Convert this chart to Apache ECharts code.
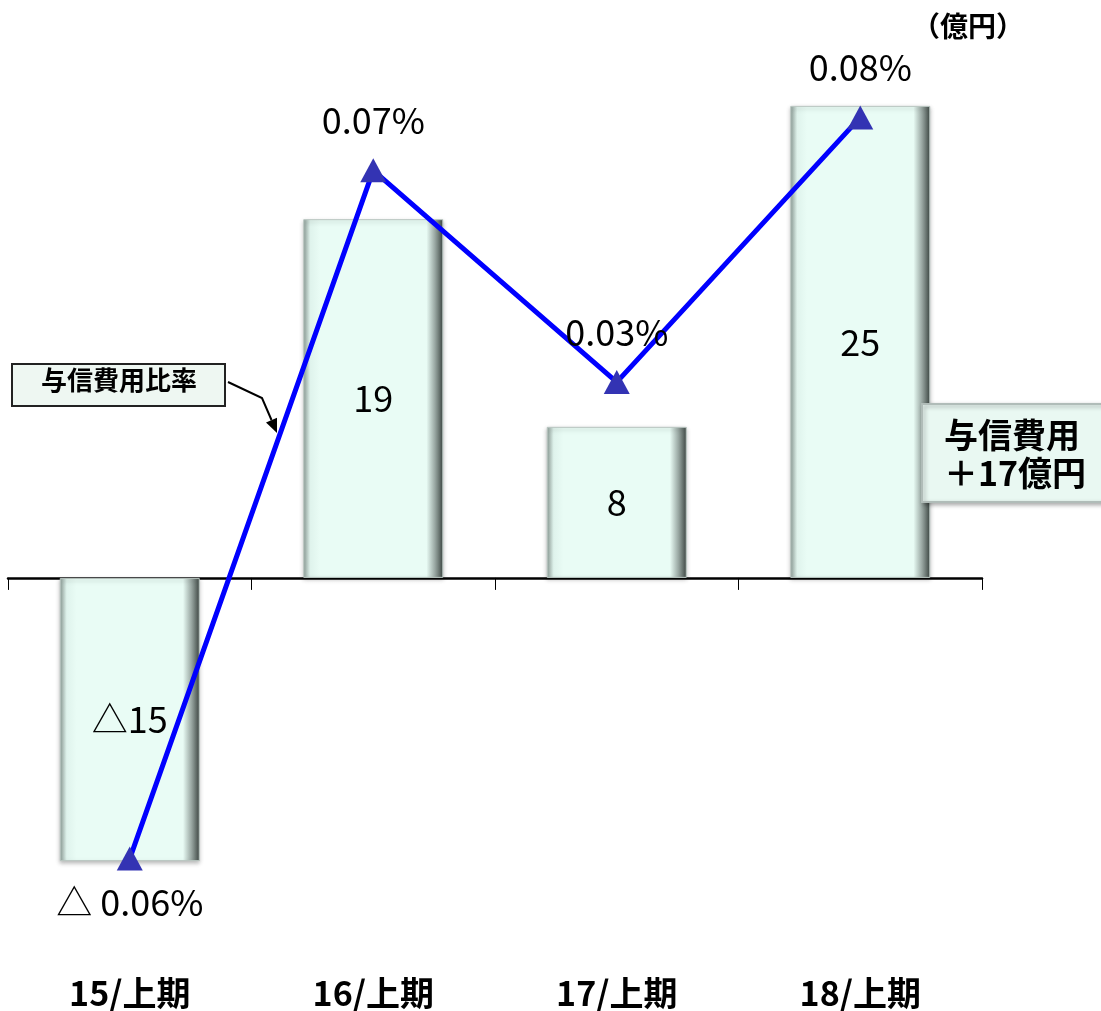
<!DOCTYPE html>
<html><head><meta charset="utf-8">
<script src="https://cdn.jsdelivr.net/npm/echarts@6/dist/echarts.min.js"></script>
<style>html,body{margin:0;padding:0;background:#fff}#c{width:1101px;height:1011px}</style>
</head><body><div id="c"></div>
<script>
const categories = ['15/上期', '16/上期', '17/上期', '18/上期'];
const creditCost = [-15, 19, 8, 25];          // 億円
const creditCostRatio = [-0.06, 0.07, 0.03, 0.08]; // %
const unitLabel = '（億円）';
const ratioName = '与信費用比率';
const noteLines = ['与信費用', '＋17億円'];

const numFont = '"Noto Sans CJK JP",sans-serif';
const jpFont = '"Noto Sans CJK JP",sans-serif';

const chart = echarts.init(document.getElementById('c'));
chart.setOption({
  backgroundColor: '#ffffff',
  animation: false,
  grid: { left: 8, right: 119, top: 87, bottom: 131, containLabel: false, outerBoundsMode: 'none' },
  xAxis: [
    {
      type: 'category',
      data: categories,
      boundaryGap: true,
      axisLine: { onZero: true, lineStyle: { color: '#000', width: 2.5 } },
      axisTick: { show: true, length: 12, lineStyle: { color: '#000', width: 1 } },
      axisLabel: { show: false }
    },
    {
      type: 'category',
      data: categories,
      position: 'bottom',
      boundaryGap: true,
      axisLine: { show: false, onZero: false },
      axisTick: { show: false },
      axisLabel: { margin: 96, fontSize: 34, fontWeight: 'bold', color: '#000', fontFamily: jpFont }
    }
  ],
  yAxis: [
    { type: 'value', min: -16, max: 26, show: false, splitLine: { show: false } },
    { type: 'value', min: -0.06404, max: 0.08574, show: false, splitLine: { show: false } }
  ],
  series: [
    {
      type: 'bar',
      data: creditCost,
      barWidth: 140,
      itemStyle: {
        color: new echarts.graphic.LinearGradient(0, 0, 1, 0, [
          { offset: 0, color: '#8c9c96' },
          { offset: 0.05, color: '#dff3ec' },
          { offset: 0.12, color: '#e9fcf5' },
          { offset: 0.88, color: '#e9fcf5' },
          { offset: 0.94, color: '#9aa8a3' },
          { offset: 1, color: '#3e4844' }
        ]),
        borderColor: '#b9c6c1',
        borderWidth: 1,
        shadowColor: 'rgba(0,0,0,0.25)',
        shadowBlur: 4,
        shadowOffsetY: 2
      },
      label: {
        show: true, position: 'inside', color: '#000', fontSize: 36, fontFamily: numFont,
        formatter: p => (p.value < 0 ? '△' + Math.abs(p.value) : String(p.value))
      },
      z: 2
    },
    {
      type: 'line',
      yAxisIndex: 1,
      data: creditCostRatio.map(v => v < 0 ? { value: v, label: { position: 'bottom', distance: 14 } } : v),
      lineStyle: { color: '#0000ff', width: 5 },
      symbol: 'triangle',
      symbolSize: [26, 24],
      itemStyle: { color: '#3333b3' },
      label: {
        show: true, color: '#000', fontSize: 36, fontFamily: numFont, distance: 20,
        position: 'top',
        formatter: p => (p.value < 0 ? '△ ' + Math.abs(p.value).toFixed(2) + '%' : p.value.toFixed(2) + '%')
      },
      z: 5
    }
  ],
  graphic: [
    { type: 'text', z: 20, left: 912, top: 12, style: { text: unitLabel, font: 'bold 28px ' + jpFont, fill: '#000' } },
    { type: 'rect', z: 20, shape: { x: 12, y: 364, width: 213, height: 42 },
      style: { fill: '#eef7f2', stroke: '#222', lineWidth: 2 } },
    { type: 'text', z: 21, left: 41, top: 367, style: { text: ratioName, font: 'bold 26px ' + jpFont, fill: '#000' } },
    { type: 'polyline', z: 20, shape: { points: [[228, 382], [262, 398], [271.5, 420]] },
      style: { stroke: '#000', lineWidth: 2, fill: null } },
    { type: 'polygon', z: 20, shape: { points: [[277, 417.7], [266, 422.5], [277, 433]] },
      style: { fill: '#000' } },
    { type: 'rect', z: 20, shape: { x: 922, y: 404, width: 190, height: 98 },
      style: { fill: '#e9f8f2', stroke: '#b0bcb8', lineWidth: 2, shadowColor: 'rgba(0,0,0,0.3)', shadowBlur: 4, shadowOffsetX: 2, shadowOffsetY: 2 } },
    { type: 'text', z: 21, left: 944, top: 416, style: { text: noteLines.join('\n'), font: 'bold 34px ' + jpFont, fill: '#000', lineHeight: 38 } }
  ]
});
</script></body></html>
